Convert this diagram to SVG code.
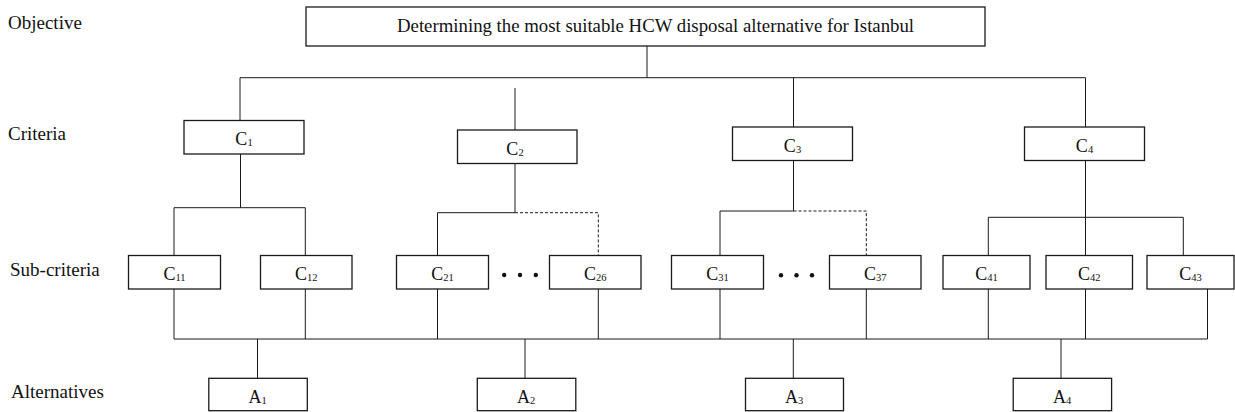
<svg xmlns="http://www.w3.org/2000/svg" width="1235" height="412" viewBox="0 0 1235 412">
<style>
.bg{fill:#ffffff}
.box{fill:#ffffff;stroke:#1a1a1a;stroke-width:1.3}
.ln{fill:none;stroke:#1a1a1a;stroke-width:1}
.dash{fill:none;stroke:#1a1a1a;stroke-width:1;stroke-dasharray:3 2}
.row{font-family:"Liberation Serif","Times New Roman",serif;font-size:19px;fill:#111}
.obj{font-family:"Liberation Serif","Times New Roman",serif;font-size:18.8px;fill:#111}
.lbl{font-family:"Liberation Serif","Times New Roman",serif;font-size:18px;fill:#111;text-anchor:middle}
.sub{font-size:10.5px}
.dot{fill:#111}
</style>
<rect class="bg" x="0" y="0" width="1235" height="412"/>
<g id="row-labels">
<text class="row" x="8" y="29">Objective</text>
<text class="row" x="8" y="140">Criteria</text>
<text class="row" x="10" y="276">Sub-criteria</text>
<text class="row" x="11" y="398">Alternatives</text>
</g>
<g id="connectors">
<path class="ln" d="M647 46V77.7M240 77.7H1085.5M240 77.7V120.5M515 88V130M793.5 77.7V127M1085.5 77.7V127"/>
<path class="ln" d="M240.5 154V207.7M174 207.7H305.3M174 207.7V255.5M305.3 207.7V255.5"/>
<path class="ln" d="M515 163.5V212.7M437.5 212.7H515M437.5 212.7V255.5"/>
<path class="dash" d="M515 212.7H598.3V255.5"/>
<path class="ln" d="M793.5 160.5V211M720 211H793.5M720 211V255.5"/>
<path class="dash" d="M793.5 211H866.3V255.5"/>
<path class="ln" d="M1085.5 160.5V255.5M988.3 217.3H1183.3M988.3 217.3V255.5M1183.3 217.3V255.5"/>
<path class="ln" d="M174 289V339M305.3 289V339M437.5 289V339M598.3 289V339M720 289V339M866.3 289V339M988.3 289V339M1085.5 289V339M1207.5 289V339M174 339H1207.5"/>
<path class="ln" d="M257.5 339V378.3M525 339V378.3M793.3 339V378.3M1061 339V378.3"/>
</g>
<g id="objective">
<rect class="box" x="306" y="7" width="679" height="39"/>
<text class="obj" x="397" y="32.3">Determining the most suitable HCW disposal alternative for Istanbul</text>
</g>
<g id="C1"><rect class="box" x="184" y="120.5" width="120" height="33.5"/><text class="lbl" x="244" y="145.2">C<tspan class="sub" dy="1">1</tspan></text></g>
<g id="C2"><rect class="box" x="457.5" y="130" width="119.5" height="33.5"/><text class="lbl" x="515" y="155">C<tspan class="sub" dy="1">2</tspan></text></g>
<g id="C3"><rect class="box" x="732.5" y="127" width="120" height="33.5"/><text class="lbl" x="792.5" y="151.7">C<tspan class="sub" dy="1">3</tspan></text></g>
<g id="C4"><rect class="box" x="1024.5" y="127" width="120" height="33.5"/><text class="lbl" x="1084.5" y="151.7">C<tspan class="sub" dy="1">4</tspan></text></g>
<g id="C11"><rect class="box" x="128.5" y="255.5" width="92" height="33.5"/><text class="lbl" x="174.5" y="279.5">C<tspan class="sub" dy="1">11</tspan></text></g>
<g id="C12"><rect class="box" x="260.5" y="255.5" width="91.5" height="33.5"/><text class="lbl" x="306.3" y="279.5">C<tspan class="sub" dy="1">12</tspan></text></g>
<g id="C21"><rect class="box" x="396.5" y="255.5" width="92" height="33.5"/><text class="lbl" x="442.5" y="279.5">C<tspan class="sub" dy="1">21</tspan></text></g>
<g id="C2-dots"><circle class="dot" cx="504.2" cy="275" r="2.2"/><circle class="dot" cx="520" cy="275" r="2.2"/><circle class="dot" cx="535.8" cy="275" r="2.2"/></g>
<g id="C26"><rect class="box" x="549.5" y="255.5" width="91.5" height="33.5"/><text class="lbl" x="595.3" y="279.5">C<tspan class="sub" dy="1">26</tspan></text></g>
<g id="C31"><rect class="box" x="671.5" y="255.5" width="92" height="33.5"/><text class="lbl" x="717.5" y="279.5">C<tspan class="sub" dy="1">31</tspan></text></g>
<g id="C3-dots"><circle class="dot" cx="781" cy="275.3" r="2.2"/><circle class="dot" cx="796.5" cy="275.3" r="2.2"/><circle class="dot" cx="812" cy="275.3" r="2.2"/></g>
<g id="C37"><rect class="box" x="829.5" y="255.5" width="91.5" height="33.5"/><text class="lbl" x="875.3" y="279.5">C<tspan class="sub" dy="1">37</tspan></text></g>
<g id="C41"><rect class="box" x="943" y="255.5" width="87" height="33.5"/><text class="lbl" x="986.5" y="279.5">C<tspan class="sub" dy="1">41</tspan></text></g>
<g id="C42"><rect class="box" x="1046" y="255.5" width="86.5" height="33.5"/><text class="lbl" x="1089.3" y="279.5">C<tspan class="sub" dy="1">42</tspan></text></g>
<g id="C43"><rect class="box" x="1147" y="255.5" width="87" height="33.5"/><text class="lbl" x="1190.5" y="279.5">C<tspan class="sub" dy="1">43</tspan></text></g>
<g id="A1"><rect class="box" x="208.8" y="378.3" width="98.5" height="32.4"/><text class="lbl" x="257.5" y="403">A<tspan class="sub" dy="1">1</tspan></text></g>
<g id="A2"><rect class="box" x="477.3" y="378.3" width="98.5" height="32.4"/><text class="lbl" x="526" y="403">A<tspan class="sub" dy="1">2</tspan></text></g>
<g id="A3"><rect class="box" x="745.5" y="378.3" width="98" height="32.4"/><text class="lbl" x="794" y="403">A<tspan class="sub" dy="1">3</tspan></text></g>
<g id="A4"><rect class="box" x="1013.2" y="378.3" width="98.4" height="32.4"/><text class="lbl" x="1062" y="403">A<tspan class="sub" dy="1">4</tspan></text></g>
</svg>
